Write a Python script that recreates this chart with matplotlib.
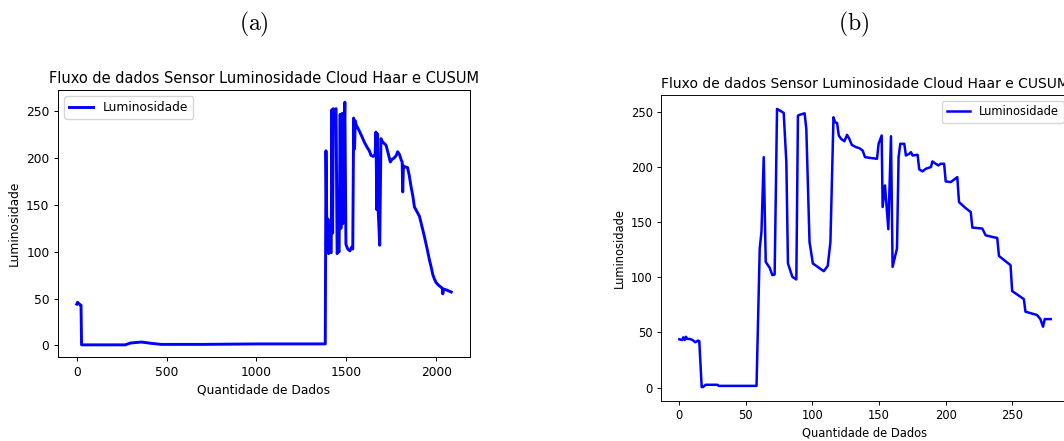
import matplotlib
matplotlib.use('Agg')
import matplotlib.pyplot as plt

# sensor stream, full length (panel a)
full_x = [0, 5, 10, 15, 20, 24, 27, 150, 270, 300, 360, 420, 470, 700, 1000, 1200, 1383,
          1387, 1393, 1398, 1402, 1406, 1410, 1416, 1420, 1424, 1428, 1434, 1443, 1449,
          1455, 1460, 1466, 1470, 1477, 1481, 1486, 1492, 1498, 1508, 1520, 1530, 1536,
          1541, 1546, 1550, 1556, 1565, 1573, 1585, 1601, 1615, 1628, 1638, 1650, 1660,
          1665, 1670, 1674, 1678, 1686, 1693, 1700, 1710, 1721, 1732, 1745, 1755, 1765,
          1778, 1786, 1796, 1806, 1811, 1814, 1818, 1823, 1841, 1850, 1860, 1870, 1879,
          1893, 1907, 1920, 1935, 1950, 1963, 1972, 1981, 1990, 2000, 2015, 2028, 2034,
          2037, 2041, 2045, 2060, 2084]
full_y = [44, 46, 45, 44, 43, 43, 0.5, 0.5, 0.5, 2.5, 3.5, 2, 1, 1, 1.5, 1.5, 1.5,
          208, 100, 135, 98, 130, 100, 99, 252, 120, 253, 250, 253, 98, 102,
          100, 247, 125, 248, 130, 200, 260, 108, 103, 101, 105, 103,
          243, 210, 240, 235, 232, 229, 224, 217, 212, 208, 203, 202, 204,
          228, 145, 226, 142, 107, 221, 218, 216, 214, 206, 196, 199, 200,
          203, 207, 204, 198, 196, 164, 192, 191, 190, 182, 170, 160, 148,
          143, 138, 128, 116, 103, 91, 84, 76, 71, 67, 64, 62, 61,
          55, 60, 60, 59, 57]

# compressed stream after Haar / CUSUM (panel b)
cloud_x = [0, 2, 3, 4, 5, 6, 8, 10, 12, 14, 15, 16.8, 18, 19.7, 28.7, 29.5, 40, 50, 58,
           60.4, 61.7, 63.4, 64.9, 67.9, 69.9, 71.6, 73.4, 78.4, 80.4, 81.6, 84.9, 87.9,
           89.1, 90.3, 94.1, 95.4, 97.8, 100.3, 108.5, 111.5, 113.5, 115.8, 117, 118.5,
           119.8, 121.5, 124, 126, 127.8, 129.5, 132.8, 135.3, 137.7, 139.5, 142.8, 148.5,
           149.7, 152, 152.7, 154.5, 157, 159, 160.2, 163.5, 164.7, 166, 169, 170.2, 172.7,
           174, 175.2, 179, 180.2, 182.7, 185.2, 189, 190.1, 192.6, 194.6, 196.3, 198.9,
           200.1, 203.9, 208.8, 210.1, 215, 218.9, 220.1, 227.6, 230.1, 235.1, 238.8, 240.1,
           248.8, 250, 258.8, 260, 268.7, 271.2, 273.2, 274.5, 279]
cloud_y = [43.7, 43, 45.5, 43, 46, 44, 44, 43, 41, 42.5, 42, 0.4, 0.5, 2.5, 2.5, 1.5, 1.5, 1.5, 1.5,
           126, 141, 208.7, 113.8, 108.4, 101.8, 102.4, 252.4, 248.8, 204, 112.4, 100.3, 97.9,
           246.3, 247, 248.4, 234.3, 131.9, 112.4, 105.4, 110.2, 131.9, 244.8, 240.3, 239.7,
           228.3, 225.3, 223.1, 228.9, 225, 219.9, 217.7, 216.8, 214.7, 208.7, 208.1, 207.2,
           220.8, 228.3, 163.5, 183.1, 143.4, 227.6, 109.3, 126, 208.7, 220.8, 220.8, 210.2, 211.7,
           213.2, 210.2, 210.8, 197.6, 195.8, 198.2, 199.7, 204.8, 202.7, 201.2, 202.7, 202.7,
           186.7, 186.1, 190.6, 168, 162.6, 159, 144.9, 144, 137.9, 136.4, 135.5, 119.2,
           110.8, 87.4, 80.1, 68.7, 65.7, 62, 55.1, 62, 62]

title = 'Fluxo de dados Sensor Luminosidade Cloud Haar e CUSUM'

plt.rcParams['mathtext.fontset'] = 'cm'
fig = plt.figure(figsize=(10.64, 4.41), dpi=100)


def style(ax, s):
    # both panels are the same default plot, just at a different scale
    ax.set_title(title, fontsize=12 * s, pad=6 * s)
    ax.set_xlabel('Quantidade de Dados', fontsize=10 * s, labelpad=4 * s)
    ax.set_ylabel('Luminosidade', fontsize=10 * s, labelpad=4 * s)
    ax.tick_params(labelsize=10 * s, length=3.5 * s, width=0.8 * s, pad=3.5 * s)
    for sp in ax.spines.values():
        sp.set_linewidth(0.8 * s)


ax1 = fig.add_axes([0.0545, 0.1905, 0.3872, 0.6054])
ax1.plot(full_x, full_y, 'b', lw=2.1, label='Luminosidade')
ax1.set_yticks([0, 50, 100, 150, 200, 250])
style(ax1, 0.88)
ax1.legend(loc='upper left', fontsize=8.8)

ax2 = fig.add_axes([0.621, 0.0907, 0.384, 0.6939])
ax2.plot(cloud_x, cloud_y, 'b', lw=1.8, label='Luminosidade')
ax2.set_xticks([0, 50, 100, 150, 200, 250])
style(ax2, 0.83)
ax2.legend(loc='upper right', fontsize=8.3)

fig.text(254 / 1064, 1 - 24 / 441, r'$\mathrm{(a)}$', fontsize=17, ha='center', va='center')
fig.text(854 / 1064, 1 - 24 / 441, r'$\mathrm{(b)}$', fontsize=17, ha='center', va='center')

fig.savefig('out.png', dpi=100)
